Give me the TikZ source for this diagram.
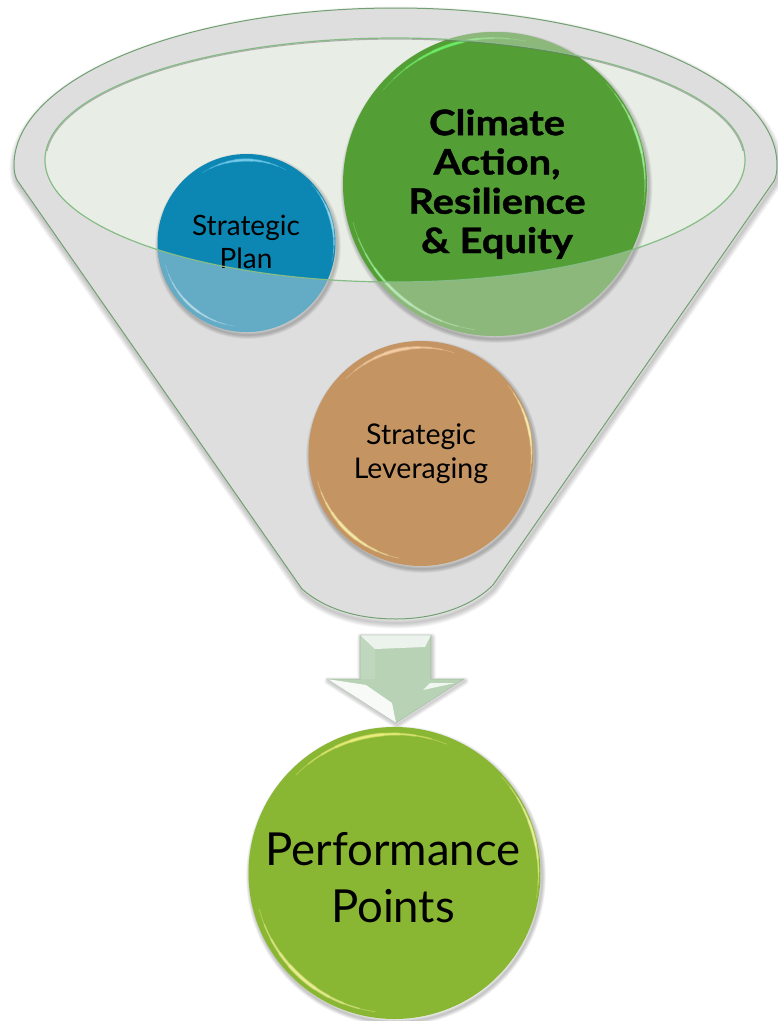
\documentclass[tikz,border=0pt]{standalone}
\usepackage{fontspec}
\setmainfont{Lato}
\newfontfamily\heavyfont[FakeStretch=1.14,BoldFeatures={FakeBold=1.1}]{Lato}
\definecolor{funnelgray}{HTML}{DEDEDE}
\definecolor{mouth}{HTML}{E8EDE6}
\definecolor{edgegreen}{HTML}{86BC86}
\definecolor{blueball}{HTML}{0C87B3}
\definecolor{bigball}{HTML}{549E36}
\definecolor{orangeball}{HTML}{C49563}
\definecolor{limeball}{HTML}{8AB733}
\definecolor{arrowgreen}{HTML}{B7D2B5}
\tikzset{
  ballshape/.style={circle,inner sep=0pt,outer sep=0pt,draw=none},
  labeltext/.style={inner sep=0pt,align=center,text=black},
}
\def\funnelpath{(14,165) .. controls (14,78.3) and (184.7,8) .. (395.5,8)
  .. controls (606.3,8) and (777,78.3) .. (777,165)
  .. controls (777,172) and (776,177) .. (774,181)
  -- (493,585) .. controls (470,608) and (432,619) .. (396,619)
  .. controls (360,619) and (326,610) .. (302,589)
  -- (17,180) .. controls (15,176) and (14,171) .. (14,165) -- cycle}
\def\mouthpath{(395,160) ellipse [x radius=350,y radius=122]}
\def\arrowpath{(360,635) -- (431,635) -- (431,679) -- (464,679) -- (396,723) -- (327,679) -- (360,679) -- cycle}
% soft shadow of a round ball
\newcommand{\ballshadow}[3]{%
  \foreach \k in {1,...,6}{
    \draw[black,opacity=.04,line width=\k*1.3pt] (#1+1.5,#2+3) circle [radius=#3];
  }}
% tapered highlight along a ball's rim
\newcommand{\glint}[7]{%
  \foreach \k in {0,1,2,3,4}{
    \pgfmathsetmacro{\aa}{#4+\k*(#5-#4)/10}
    \pgfmathsetmacro{\bb}{#5-\k*(#5-#4)/10}
    \pgfmathsetmacro{\ww}{(0.6+\k*0.6)*#7}
    \draw[draw=#6,opacity=.32,line width=\ww pt,line cap=round]
      plot[variable=\t,domain=\aa:\bb,samples=24,smooth] ({#1+#3*cos(\t)},{#2-#3*sin(\t)});
  }}
\newcommand{\wash}[3]{%
  \begin{scope}
    \clip (#1,#2) circle [radius=#3];
    \fill[funnelgray,opacity=.42,even odd rule] (0,0) rectangle (778,1021) \mouthpath;
  \end{scope}}
\begin{document}
\begin{tikzpicture}[x=1pt,y=-1pt]
\useasboundingbox (0,0) rectangle (778,1021);
\fill[white] (0,0) rectangle (778,1021);
% funnel shadow and body
\foreach \k in {1,...,7}{
  \draw[black,opacity=.03,line width=\k*1.6pt,shift={(1,4)}] \funnelpath;
}
\fill[funnelgray] \funnelpath;
\fill[mouth] \mouthpath;
% upper balls
\ballshadow{246.5}{243}{89}
\ballshadow{495}{184}{152}
\ballshadow{421}{453.5}{112.5}
\node[ballshape,fill=blueball,minimum size=178pt] (planball) at (246.5,243) {};
\glint{246.5}{243}{83}{62}{122}{cyan!45!white}{1.1}
\glint{246.5}{243}{87.5}{-12}{42}{cyan!30!white}{.9}
\glint{246.5}{243}{84}{195}{262}{cyan!30!white}{.9}
\node[ballshape,fill=bigball,minimum size=304pt] (climateball) at (495,184) {};
\glint{495}{184}{146}{78}{140}{green!55!white}{1.1}
\glint{495}{184}{150}{-8}{42}{green!30!white}{1}
\glint{495}{184}{147}{195}{262}{green!30!white}{1.1}
\node[ballshape,fill=orangeball,minimum size=225pt] (leverball) at (421,453.5) {};
\glint{421}{453.5}{106}{72}{135}{orange!30!white}{1.3}
\glint{421}{453.5}{110.5}{-10}{38}{yellow!25!white}{1}
\glint{421}{453.5}{107}{195}{258}{yellow!30!white}{1.3}
\wash{246.5}{243}{89}
\wash{495}{184}{152}
% labels
\node[labeltext,font=\fontsize{28}{33}\selectfont] (plantext) at (246,241.5) {Strategic\\Plan};
\node[labeltext,font=\fontsize{35}{39.3}\heavyfont\bfseries\selectfont] (climatetext) at (497,184) {Climate\\Action,\\Resilience\\\& Equity};
\node[labeltext,font=\fontsize{28.5}{34}\selectfont] (levertext) at (421,453.5) {Strategic\\Leveraging};
% mouth and funnel outlines
\draw[edgegreen,line width=1.2pt] \mouthpath;
\begin{scope}
  \clip (0,0) rectangle (778,150);
  \draw[black!55,opacity=.5,line width=1pt] (395,160.6) ellipse [x radius=349,y radius=121.5];
\end{scope}
\draw[edgegreen!85!black,line width=1pt] \funnelpath;
% arrow
\foreach \k in {1,...,6}{
  \draw[black,opacity=.03,line width=\k*1.3pt,line join=round,shift={(1,2)}] \arrowpath;
}
\fill[arrowgreen] \arrowpath;
\fill[white,opacity=.75] (360,635) -- (431,635) -- (425,647) -- (375,649) -- cycle;
\fill[white,opacity=.12] (360,635) -- (375,649) -- (375,679) -- (360,679) -- cycle;
\fill[white,opacity=.9] (327,679) -- (366,685) -- (392,703) -- (396,723) -- cycle;
\fill[white,opacity=.8] (423,690) -- (430,683) -- (455,683) -- cycle;
\draw[arrowgreen!75!black,opacity=.4,line width=.6pt] \arrowpath;
% goal ball
\ballshadow{394.5}{873}{146}
\node[ballshape,fill=limeball,minimum size=292pt] (pointsball) at (394.5,873) {};
\glint{394.5}{873}{139}{68}{135}{yellow!45!white}{1.3}
\glint{394.5}{873}{144}{-10}{42}{yellow!30!white}{1}
\glint{394.5}{873}{140}{195}{262}{yellow!35!white}{1.4}
\node[labeltext,font=\fontsize{45.5}{57}\selectfont] (pointstext) at (393,877.5) {Performance\\Points};
\end{tikzpicture}
\end{document}
